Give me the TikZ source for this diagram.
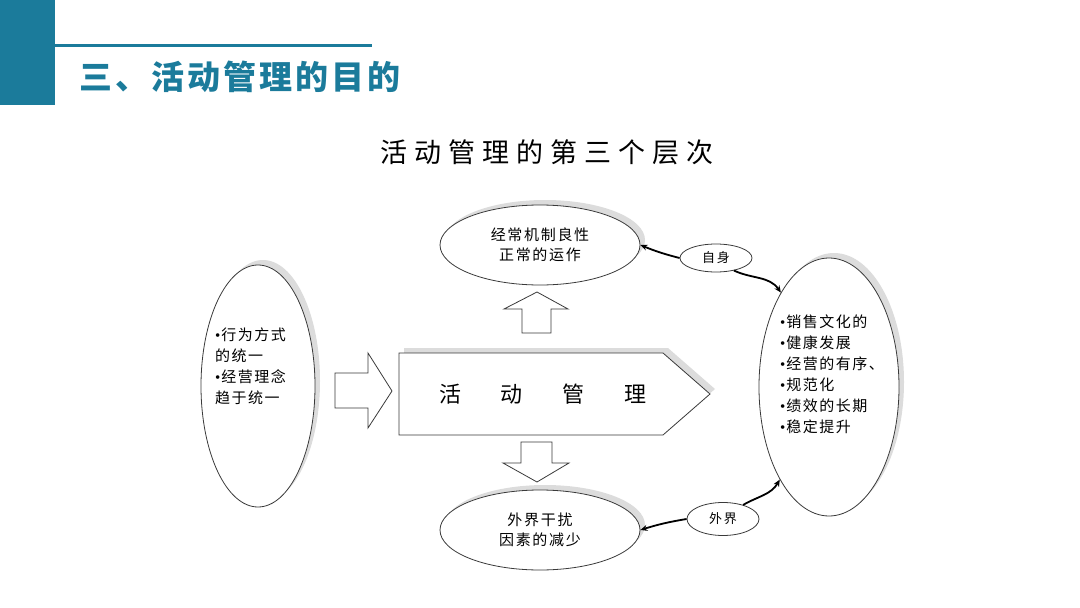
\documentclass[tikz,border=0pt]{standalone}
\usepackage{fontspec}
\setmainfont{Noto Sans CJK SC}
\newfontfamily\bulletfont{Liberation Serif}
\usetikzlibrary{shapes.geometric,shadows,arrows.meta}
\definecolor{teal1}{HTML}{1B7B9B}
\definecolor{shd}{HTML}{DCDCDC}
\definecolor{edge}{HTML}{3A3A3A}
\makeatletter
\newcommand\lsp[2]{\def\lsp@gap{#1}\@tfor\lsp@c:=#2\do{\lsp@c\hskip\lsp@gap\relax}\unskip}
\makeatother
\newcommand\bul{{\bulletfont •}\hskip1pt\relax}
\tikzset{
  ell/.style={ellipse, draw=edge, line width=0.8pt, fill=white, inner sep=0pt},
  shadowed/.style={general shadow={fill=shd, shadow xshift=5pt, shadow yshift=5pt}},
  conn/.style={line width=1.8pt, -{Stealth[length=7pt,width=6pt]}},
  blk/.style={draw=edge, line width=0.8pt, fill=white, line join=miter},
  body/.style={font=\fontsize{15}{21}\selectfont},
}
\begin{document}
\begin{tikzpicture}[x=1pt,y=-1pt]
\useasboundingbox (0,0) rectangle (1080,608);
% header
\fill[teal1] (0,0) rectangle (55,105);
\draw[teal1, line width=3pt] (55,45) -- (372,45);
\node[anchor=west, text=teal1, font=\fontsize{33}{36}\selectfont\bfseries, inner sep=0pt] (title) at (79,77) {\lsp{3pt}{三、活动管理的目的}};
\node[inner sep=0pt] (sub) at (547,152) {\fontsize{27}{30}\selectfont\lsp{7pt}{活动管理的第三个层次}};

% ellipses
\node[ell, shadowed, minimum width=200pt, minimum height=80pt, align=center, font=\fontsize{15}{20}\selectfont] (top) at (540,245) {\lsp{1.7pt}{经常机制良性}\\\lsp{1.7pt}{正常的运作}};
\node[ell, shadowed, minimum width=200pt, minimum height=80pt, align=center, font=\fontsize{15}{20}\selectfont] (bt) at (540,530) {\lsp{1.7pt}{外界干扰}\\\lsp{1.7pt}{因素的减少}};
\node[ell, minimum width=72pt, minimum height=28pt, font=\fontsize{13}{15}\selectfont] (zs) at (716,258) {\lsp{2pt}{自身}};
\node[ell, minimum width=72pt, minimum height=33pt, font=\fontsize{13}{15}\selectfont] (wj) at (723,519) {\lsp{2pt}{外界}};
\node[ell, shadowed, minimum width=114pt, minimum height=242pt] (lf) at (258,386) {};
\node[ell, shadowed, minimum width=140pt, minimum height=258pt] (rt) at (829,387) {};
\node[anchor=west, align=left, body, inner sep=0pt] (lftxt) at (215,366)
  {\bul\lsp{1.5pt}{行为方式}\\\lsp{1.5pt}{的统一}\\\bul\lsp{1.5pt}{经营理念}\\\lsp{1.5pt}{趋于统一}};
\node[anchor=west, align=left, body, inner sep=0pt] (rttxt) at (780,374)
  {\bul\lsp{1.5pt}{销售文化的}\\\bul\lsp{1.5pt}{健康发展}\\\bul\lsp{1.5pt}{经营的有序、}\\\bul\lsp{1.5pt}{规范化}\\\bul\lsp{1.5pt}{绩效的长期}\\\bul\lsp{1.5pt}{稳定提升}};

% central pentagon
\draw[blk, shadowed] (399,353) -- (663,353) -- (710,394) -- (663,435) -- (399,435) -- cycle;
\node[inner sep=0pt] (main) at (543,394) {\fontsize{22}{24}\selectfont\lsp{40pt}{活动管理}};

% block arrows
\draw[blk] (335,373) -- (368,373) -- (368,353) -- (392,391) -- (368,428) -- (368,408) -- (335,408) -- cycle;
\draw[blk] (522,333) -- (522,309) -- (504,309) -- (537,292) -- (568,309) -- (551,309) -- (551,333) -- cycle;
\draw[blk] (521,442) -- (552,442) -- (552,463) -- (569,463) -- (537,482) -- (503,463) -- (521,463) -- cycle;

% connectors
\draw[conn] (zs.west) to[bend left=4] (top.east);
\draw[conn] (zs.-35) to[out=-25, in=125] (rt.117);
\draw[conn] (wj.west) to[bend right=4] (bt.east);
\draw[conn] (wj.35) to[out=30, in=-120] (rt.-118);
\end{tikzpicture}
\end{document}
